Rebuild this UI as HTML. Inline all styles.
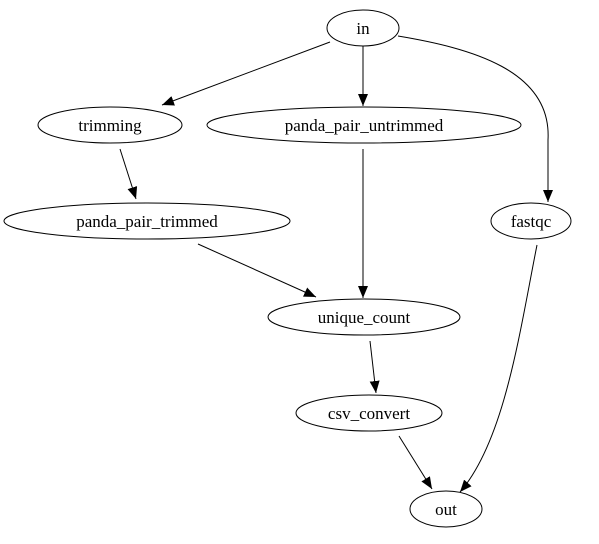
<!DOCTYPE html>
<html><head><meta charset="utf-8"><style>html,body{margin:0;padding:0;background:#fff}svg text{font-family:"Liberation Serif","Times New Roman",Times,"DejaVu Serif",serif !important}</style></head><body>
<svg width="599" height="539" viewBox="0 0 599 539" xmlns="http://www.w3.org/2000/svg">
<defs><marker id="a" markerWidth="12" markerHeight="10" refX="12" refY="5" orient="auto" markerUnits="userSpaceOnUse"><path d="M0,0 L12,5 L0,10 Z" fill="#000"/></marker></defs>
<g fill="none" stroke="#000" stroke-width="1">
<ellipse cx="363" cy="28" rx="36" ry="18"/>
<ellipse cx="110" cy="125" rx="72" ry="18"/>
<ellipse cx="364" cy="125" rx="157" ry="18"/>
<ellipse cx="531" cy="221" rx="40" ry="18"/>
<ellipse cx="147" cy="221" rx="143" ry="18"/>
<ellipse cx="364" cy="317" rx="96" ry="18"/>
<ellipse cx="369" cy="413" rx="73" ry="18"/>
<ellipse cx="446" cy="509" rx="36" ry="18"/>
<path d="M330,42 L162,105" marker-end="url(#a)"/>
<path d="M363,46 L363,106" marker-end="url(#a)"/>
<path d="M398,36 C470,48 552,70 548,140 L548,202" marker-end="url(#a)"/>
<path d="M120,149 L136,199" marker-end="url(#a)"/>
<path d="M198,244 L316,297" marker-end="url(#a)"/>
<path d="M363,149 L363,298" marker-end="url(#a)"/>
<path d="M370,341 L376,393" marker-end="url(#a)"/>
<path d="M399,436 L432,489" marker-end="url(#a)"/>
<path d="M537,245 C520,330 505,440 460,492" marker-end="url(#a)"/>
</g>
<g font-family="'Liberation Serif', 'DejaVu Serif', serif" font-size="17" text-anchor="middle" fill="#000">
<text x="363" y="34">in</text>
<text x="110" y="131">trimming</text>
<text x="364" y="131">panda_pair_untrimmed</text>
<text x="531" y="227">fastqc</text>
<text x="147" y="227">panda_pair_trimmed</text>
<text x="364" y="323">unique_count</text>
<text x="369" y="419">csv_convert</text>
<text x="446" y="515">out</text>
</g>
</svg>
</body></html>
